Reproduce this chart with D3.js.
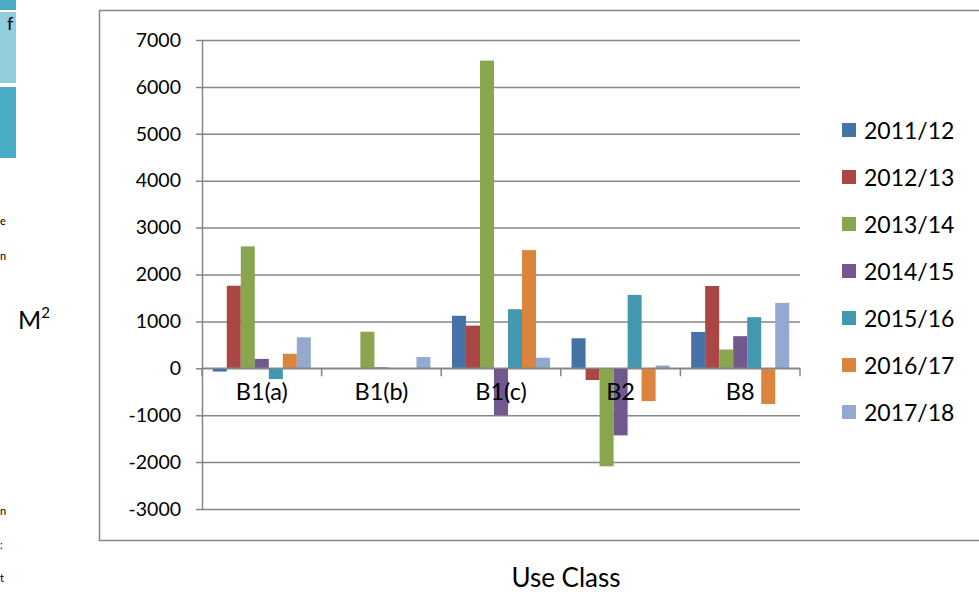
<!DOCTYPE html>
<html>
<head>
<meta charset="utf-8">
<script src="https://cdn.jsdelivr.net/npm/d3@7"></script>
<style>
  body { margin: 0; background: #fff; }
  svg { display: block; font-family: Lato, 'Open Sans', sans-serif; }
</style>
</head>
<body>
<svg id="chart" width="979" height="592"></svg>
<script>
// Chart data
const CATEGORIES = ['B1(a)', 'B1(b)', 'B1(c)', 'B2', 'B8'];
const SERIES = ['2011/12', '2012/13', '2013/14', '2014/15', '2015/16', '2016/17', '2017/18'];
const COLORS = ['#4572A7', '#AA4643', '#89A54E', '#71588F', '#4198AF', '#DB843D', '#93A9CF'];
// one array per year, values in category order
const V_2011 = [-70, 0, 1120, 640, 775];
const V_2012 = [1760, 0, 910, -250, 1755];
const V_2013 = [2600, 780, 6560, -2090, 400];
const V_2014 = [200, 20, -1000, -1430, 685];
const V_2015 = [-230, 0, 1260, 1565, 1090];
const V_2016 = [310, 0, 2520, -700, -760];
const V_2017 = [660, 240, 225, 60, 1395];
const Y_TICKS = [7000, 6000, 5000, 4000, 3000, 2000, 1000, 0, -1000, -2000, -3000];

const VALUES = [V_2011, V_2012, V_2013, V_2014, V_2015, V_2016, V_2017];

const svg = d3.select('#chart');
const GRID = '#868686';

// cropped page bits on the left edge
svg.append('rect').attr('x', 0).attr('y', 0).attr('width', 16).attr('height', 10).attr('fill', '#4BACC6');
svg.append('rect').attr('x', 0).attr('y', 12).attr('width', 16).attr('height', 71).attr('fill', '#92CDDC');
svg.append('rect').attr('x', 0).attr('y', 87).attr('width', 16).attr('height', 71).attr('fill', '#4BACC6');
svg.append('text').attr('x', 7).attr('y', 30).attr('font-size', 18).attr('fill', '#000').text('f');
[['e', 225], ['n', 260], ['n', 515], [':', 549], ['t', 582]].forEach(([t, y]) => {
  svg.append('text').attr('x', 0).attr('y', y).attr('font-size', 11).attr('fill', '#000').text(t);
});

// outer chart frame
svg.append('rect')
  .attr('x', 99.5).attr('y', 10.5)
  .attr('width', 900).attr('height', 530)
  .attr('fill', 'none').attr('stroke', GRID).attr('stroke-width', 1.5);

const plot = { left: 202, right: 800, top: 40, bottom: 509 };

const x0 = d3.scaleBand()
  .domain(CATEGORIES)
  .range([plot.left, plot.right])
  .paddingInner(0.18)
  .paddingOuter(0.09);

const x1 = d3.scaleBand()
  .domain(SERIES)
  .range([0, x0.bandwidth()]);

const y = d3.scaleLinear()
  .domain([-3000, 7000])
  .range([plot.bottom, plot.top]);

// gridlines + y axis
const yAxis = d3.axisLeft(y)
  .tickValues(Y_TICKS)
  .tickSize(-(plot.right - plot.left))
  .tickSizeOuter(0)
  .tickPadding(21)
  .tickFormat(d => String(d));

const yg = svg.append('g')
  .attr('transform', `translate(${plot.left},0)`)
  .call(yAxis);
yg.select('.domain').attr('stroke', GRID).attr('stroke-width', 1.5);
yg.selectAll('.tick line')
  .attr('x1', -6)
  .attr('stroke', GRID).attr('stroke-width', 1.5);
yg.selectAll('.tick text')
  .attr('font-size', 19.5).attr('fill', '#000')
  .attr('font-family', 'Lato, sans-serif');

// bars
const groups = svg.append('g')
  .selectAll('g')
  .data(CATEGORIES)
  .enter()
  .append('g')
    .attr('transform', d => `translate(${x0(d)},0)`);

groups.selectAll('rect')
  .data((d, ci) => SERIES.map((s, si) => ({ s, si, v: VALUES[si][ci] })))
  .enter()
  .append('rect')
    .attr('x', d => x1(d.s))
    .attr('width', x1.bandwidth())
    .attr('y', d => y(Math.max(0, d.v)))
    .attr('height', d => Math.abs(y(d.v) - y(0)))
    .attr('fill', d => COLORS[d.si]);

// zero axis with category tick marks
const zero = y(0);
svg.append('line')
  .attr('x1', plot.left).attr('x2', plot.right)
  .attr('y1', zero).attr('y2', zero)
  .attr('stroke', GRID).attr('stroke-width', 1.5);

const boundaries = CATEGORIES.map(c => x0(c) - x0.step() * 0.09).concat([plot.right]);
svg.append('g')
  .selectAll('line')
  .data(boundaries)
  .enter()
  .append('line')
    .attr('x1', d => d).attr('x2', d => d)
    .attr('y1', zero).attr('y2', zero + 8)
    .attr('stroke', GRID).attr('stroke-width', 1.5);

svg.append('g')
  .selectAll('text')
  .data(CATEGORIES)
  .enter()
  .append('text')
    .attr('x', d => x0(d) + x0.bandwidth() / 2)
    .attr('y', zero + 32)
    .attr('text-anchor', 'middle')
    .attr('font-size', 23.5)
    .attr('fill', '#000')
    .text(d => d);

// legend
const legend = svg.append('g')
  .selectAll('g')
  .data(SERIES)
  .enter()
  .append('g')
    .attr('transform', (d, i) => `translate(842,${130 + i * 47})`);

legend.append('rect')
  .attr('x', 0).attr('y', -7)
  .attr('width', 14).attr('height', 14)
  .attr('fill', (d, i) => COLORS[i]);

legend.append('text')
  .attr('x', 22).attr('y', 8.5)
  .attr('font-size', 23)
  .attr('fill', '#000')
  .text(d => d);

// axis titles
const mLabel = svg.append('text')
  .attr('x', 18).attr('y', 329)
  .attr('font-size', 25)
  .attr('fill', '#000');
mLabel.append('tspan').text('M');
mLabel.append('tspan').attr('dy', -11).attr('font-size', 15).text('2');

svg.append('text')
  .attr('x', 566).attr('y', 587)
  .attr('text-anchor', 'middle')
  .attr('font-size', 26)
  .attr('fill', '#000')
  .text('Use Class');
</script>
</body>
</html>
